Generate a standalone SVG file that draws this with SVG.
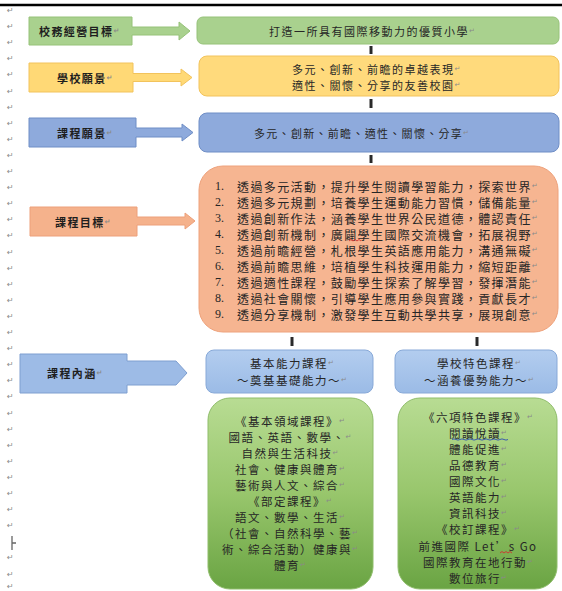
<svg xmlns="http://www.w3.org/2000/svg" width="562" height="591" viewBox="0 0 562 591">
<style>
text{font-family:"Noto Sans CJK TC","Noto Sans CJK SC",sans-serif;fill:#262626;dominant-baseline:central}
.t{font-size:11px;letter-spacing:1.5px}
.lb{font-size:11px;font-weight:bold;letter-spacing:1.4px;fill:#1e1e1e}
.s{font-size:12px;letter-spacing:1.4px}
.n{font-family:"Liberation Serif",serif;font-size:12px}
.g{font-size:11.5px;letter-spacing:1.5px;text-anchor:middle}
.pm{fill:#8a8a8a;font-family:"DejaVu Sans",sans-serif;font-size:7px;letter-spacing:0}
.mk{font-family:"DejaVu Sans",sans-serif;font-size:8px;fill:#8a8a8a}
.con{stroke:#2a2a2a;stroke-width:3;fill:none}
</style>
<defs>
<linearGradient id="gg" x1="0" y1="0" x2="0" y2="1">
<stop offset="0" stop-color="#b8dc93"/><stop offset="0.5" stop-color="#98c66c"/><stop offset="1" stop-color="#6aa443"/>
</linearGradient>
<linearGradient id="bg" x1="0" y1="0" x2="0" y2="1">
<stop offset="0" stop-color="#b3cdef"/><stop offset="1" stop-color="#9bbbe6"/>
</linearGradient>
</defs>
<rect width="562" height="591" fill="#ffffff"/>
<line x1="0" y1="5" x2="562" y2="5" stroke="#000" stroke-width="2.5"/>
<g id="margin">
<text class="mk"><tspan x="7" y="10">↵</tspan><tspan x="7" y="26.1">↵</tspan><tspan x="7" y="42.2">↵</tspan><tspan x="7" y="58.3">↵</tspan><tspan x="7" y="74.4">↵</tspan><tspan x="7" y="90.5">↵</tspan><tspan x="7" y="106.6">↵</tspan><tspan x="7" y="122.7">↵</tspan><tspan x="7" y="138.8">↵</tspan><tspan x="7" y="154.9">↵</tspan><tspan x="7" y="171">↵</tspan><tspan x="7" y="187.1">↵</tspan><tspan x="7" y="203.2">↵</tspan><tspan x="7" y="219.3">↵</tspan><tspan x="7" y="235.4">↵</tspan><tspan x="7" y="251.5">↵</tspan><tspan x="7" y="267.6">↵</tspan><tspan x="7" y="283.7">↵</tspan><tspan x="7" y="299.8">↵</tspan><tspan x="7" y="315.9">↵</tspan><tspan x="7" y="332">↵</tspan><tspan x="7" y="348.1">↵</tspan><tspan x="7" y="364.2">↵</tspan><tspan x="7" y="380.3">↵</tspan><tspan x="7" y="396.4">↵</tspan><tspan x="7" y="412.5">↵</tspan><tspan x="7" y="428.6">↵</tspan><tspan x="7" y="444.7">↵</tspan><tspan x="7" y="460.8">↵</tspan><tspan x="7" y="476.9">↵</tspan><tspan x="7" y="493">↵</tspan><tspan x="7" y="509.1">↵</tspan><tspan x="7" y="525.2">↵</tspan><tspan x="7" y="557.4">↵</tspan><tspan x="7" y="573.5">↵</tspan><tspan x="7" y="585.5">↵</tspan></text>
<path d="M12,536 V550 M12,543 H16" stroke="#666" stroke-width="1.3" fill="none"/>
</g>
<g id="connectors">
<line class="con" x1="371" y1="46" x2="371" y2="54"/>
<line class="con" x1="371" y1="99" x2="371" y2="108"/>
<line class="con" x1="371" y1="155" x2="371" y2="163"/>
<line class="con" x1="292" y1="337" x2="292" y2="346"/>
<line class="con" x1="477" y1="337" x2="477" y2="346"/>
</g>
<g id="label-school-goal">
<path d="M29,17 H132 V27 H179 V22 L190,31 L179,40 V35 H132 V45 H29 Z" fill="#a9d18e" stroke="#96c279" stroke-width="1"/>
<text class="lb" x="39" y="31">校務經營目標<tspan class="pm">↵</tspan></text>
</g>
<g id="school-goal">
<rect x="197" y="17" width="362" height="27" rx="6" fill="#a9d18e" stroke="#96c279"/>
<text class="t" x="269" y="31">打造一所具有國際移動力的優質小學<tspan class="pm">↵</tspan></text>
</g>
<g id="label-school-vision">
<path d="M29,63 H133 V73.5 H181 V69 L192,77.5 L181,86 V81.5 H133 V92 H29 Z" fill="#ffd976" stroke="#f2c35c" stroke-width="1"/>
<text class="lb" x="57" y="77.5">學校願景<tspan class="pm">↵</tspan></text>
</g>
<g id="school-vision">
<rect x="199" y="56" width="360" height="40" rx="8" fill="#ffda7c" stroke="#f2c35c"/>
<text class="t" x="292" y="69">多元、創新、前瞻的卓越表現<tspan class="pm">↵</tspan></text>
<text class="t" x="292" y="85">適性、關懷、分享的友善校園<tspan class="pm">↵</tspan></text>
</g>
<g id="label-curriculum-vision">
<path d="M29,118 H136 V128 H182 V124 L193,132.5 L182,141 V137 H136 V147 H29 Z" fill="#8eaadc" stroke="#6f8ec6" stroke-width="1"/>
<text class="lb" x="57" y="132.5">課程願景<tspan class="pm">↵</tspan></text>
</g>
<g id="curriculum-vision">
<rect x="199" y="113" width="360" height="39" rx="8" fill="#8eaadc" stroke="#6f8ec6"/>
<text class="t" x="254" y="133" style="letter-spacing:1.3px">多元、創新、前瞻、適性、關懷、分享<tspan class="pm">↵</tspan></text>
</g>
<g id="label-curriculum-goals">
<path d="M30,207 H137 V217 H185 V213 L195,221 L185,229 V225 H137 V236 H30 Z" fill="#f5b28c" stroke="#eda07a" stroke-width="1"/>
<text class="lb" x="55" y="221.5">課程目標<tspan class="pm">↵</tspan></text>
</g>
<g id="curriculum-goals">
<rect x="199" y="166" width="359" height="166" rx="24" fill="#f6b591" stroke="#eea27c"/>
<text class="n" x="215" y="186">1.</text><text class="s" x="237" y="186">透過多元活動，提升學生閱讀學習能力，探索世界<tspan class="pm">↵</tspan></text>
<text class="n" x="215" y="202">2.</text><text class="s" x="237" y="202">透過多元規劃，培養學生運動能力習慣，儲備能量<tspan class="pm">↵</tspan></text>
<text class="n" x="215" y="218">3.</text><text class="s" x="237" y="218">透過創新作法，涵養學生世界公民道德，體認責任<tspan class="pm">↵</tspan></text>
<text class="n" x="215" y="234">4.</text><text class="s" x="237" y="234">透過創新機制，廣闢學生國際交流機會，拓展視野<tspan class="pm">↵</tspan></text>
<text class="n" x="215" y="250">5.</text><text class="s" x="237" y="250">透過前瞻經營，札根學生英語應用能力，溝通無礙<tspan class="pm">↵</tspan></text>
<text class="n" x="215" y="266">6.</text><text class="s" x="237" y="266">透過前瞻思維，培植學生科技運用能力，縮短距離<tspan class="pm">↵</tspan></text>
<text class="n" x="215" y="282">7.</text><text class="s" x="237" y="282">透過適性課程，鼓勵學生探索了解學習，發揮潛能<tspan class="pm">↵</tspan></text>
<text class="n" x="215" y="298">8.</text><text class="s" x="237" y="298">透過社會關懷，引導學生應用參與實踐，貢獻長才<tspan class="pm">↵</tspan></text>
<text class="n" x="215" y="314">9.</text><text class="s" x="237" y="314">透過分享機制，激發學生互動共學共享，展現創意<tspan class="pm">↵</tspan></text>
<path d="M349,241 l2,-1.5 l2,1.5 l2,-1.5 l2,1.5 l2,-1.5 l2,1.5" stroke="#d23030" stroke-width="0.9" fill="none"/>
</g>
<g id="label-curriculum-content">
<path d="M20,354 H127 V361 H176 L187,373 L176,385 H127 V393 H20 Z" fill="#9dbbe6" stroke="#7f9fd0" stroke-width="1"/>
<text class="lb" x="47" y="373">課程內涵<tspan class="pm">↵</tspan></text>
</g>
<g id="basic-ability">
<rect x="206" y="350" width="167" height="43" rx="8" fill="url(#bg)" stroke="#88a9d8"/>
<text class="g" x="292" y="363">基本能力課程<tspan class="pm">↵</tspan></text>
<text class="g" x="292" y="380">～奠基基礎能力～<tspan class="pm">↵</tspan></text>
</g>
<g id="school-feature">
<rect x="395" y="350" width="162" height="43" rx="8" fill="url(#bg)" stroke="#88a9d8"/>
<text class="g" x="479" y="363">學校特色課程<tspan class="pm">↵</tspan></text>
<text class="g" x="479" y="380">～涵養優勢能力～<tspan class="pm">↵</tspan></text>
</g>
<g id="basic-content">
<rect x="208" y="398" width="165" height="191" rx="22" fill="url(#gg)" stroke="#8fbd6b"/>
<text class="g" x="290" y="421">《基本領域課程》<tspan class="pm">↵</tspan></text>
<text class="g" x="290" y="437">國語、英語、數學、<tspan class="pm">↵</tspan></text>
<text class="g" x="290" y="453">自然與生活科技<tspan class="pm">↵</tspan></text>
<text class="g" x="290" y="469">社會、健康與體育<tspan class="pm">↵</tspan></text>
<text class="g" x="290" y="485">藝術與人文、綜合<tspan class="pm">↵</tspan></text>
<text class="g" x="290" y="501">《部定課程》<tspan class="pm">↵</tspan></text>
<text class="g" x="290" y="517">語文、數學、生活<tspan class="pm">↵</tspan></text>
<text class="g" x="290" y="533">（社會、自然科學、藝<tspan class="pm">↵</tspan></text>
<text class="g" x="290" y="549">術、綜合活動）健康與<tspan class="pm">↵</tspan></text>
<text class="g" x="290" y="565">體育<tspan class="pm">↵</tspan></text>
</g>
<g id="feature-content">
<rect x="398" y="398" width="159" height="191" rx="22" fill="url(#gg)" stroke="#8fbd6b"/>
<text class="g" x="478" y="417">《六項特色課程》<tspan class="pm">↵</tspan></text>
<text class="g" x="478" y="433">閱讀悅讀<tspan class="pm">↵</tspan></text>
<text class="g" x="478" y="449">體能促進<tspan class="pm">↵</tspan></text>
<text class="g" x="478" y="465">品德教育<tspan class="pm">↵</tspan></text>
<text class="g" x="478" y="481">國際文化<tspan class="pm">↵</tspan></text>
<text class="g" x="478" y="497">英語能力<tspan class="pm">↵</tspan></text>
<text class="g" x="478" y="513">資訊科技<tspan class="pm">↵</tspan></text>
<text class="g" x="478" y="529">《校訂課程》<tspan class="pm">↵</tspan></text>
<text class="g" x="478" y="546">前進國際 Let’s Go</text>
<text class="g" x="478" y="562">國際教育在地行動<tspan class="pm">↵</tspan></text>
<text class="g" x="478" y="578">數位旅行<tspan class="pm">↵</tspan></text>
<path d="M452,439.5 q2,-1.2 4,0 t4,0 t4,0 t4,0 t4,0 t4,0 t4,0 t4,0 t4,0 t4,0 t4,0 t4,0 t4,0 t4,0" stroke="#2f4fb0" stroke-width="0.9" fill="none"/>
<path d="M500,553 l2,-1.5 l2,1.5 l2,-1.5 l2,1.5 l2,-1.5 l2,1.5" stroke="#d23030" stroke-width="0.9" fill="none"/>
</g>
</svg>
